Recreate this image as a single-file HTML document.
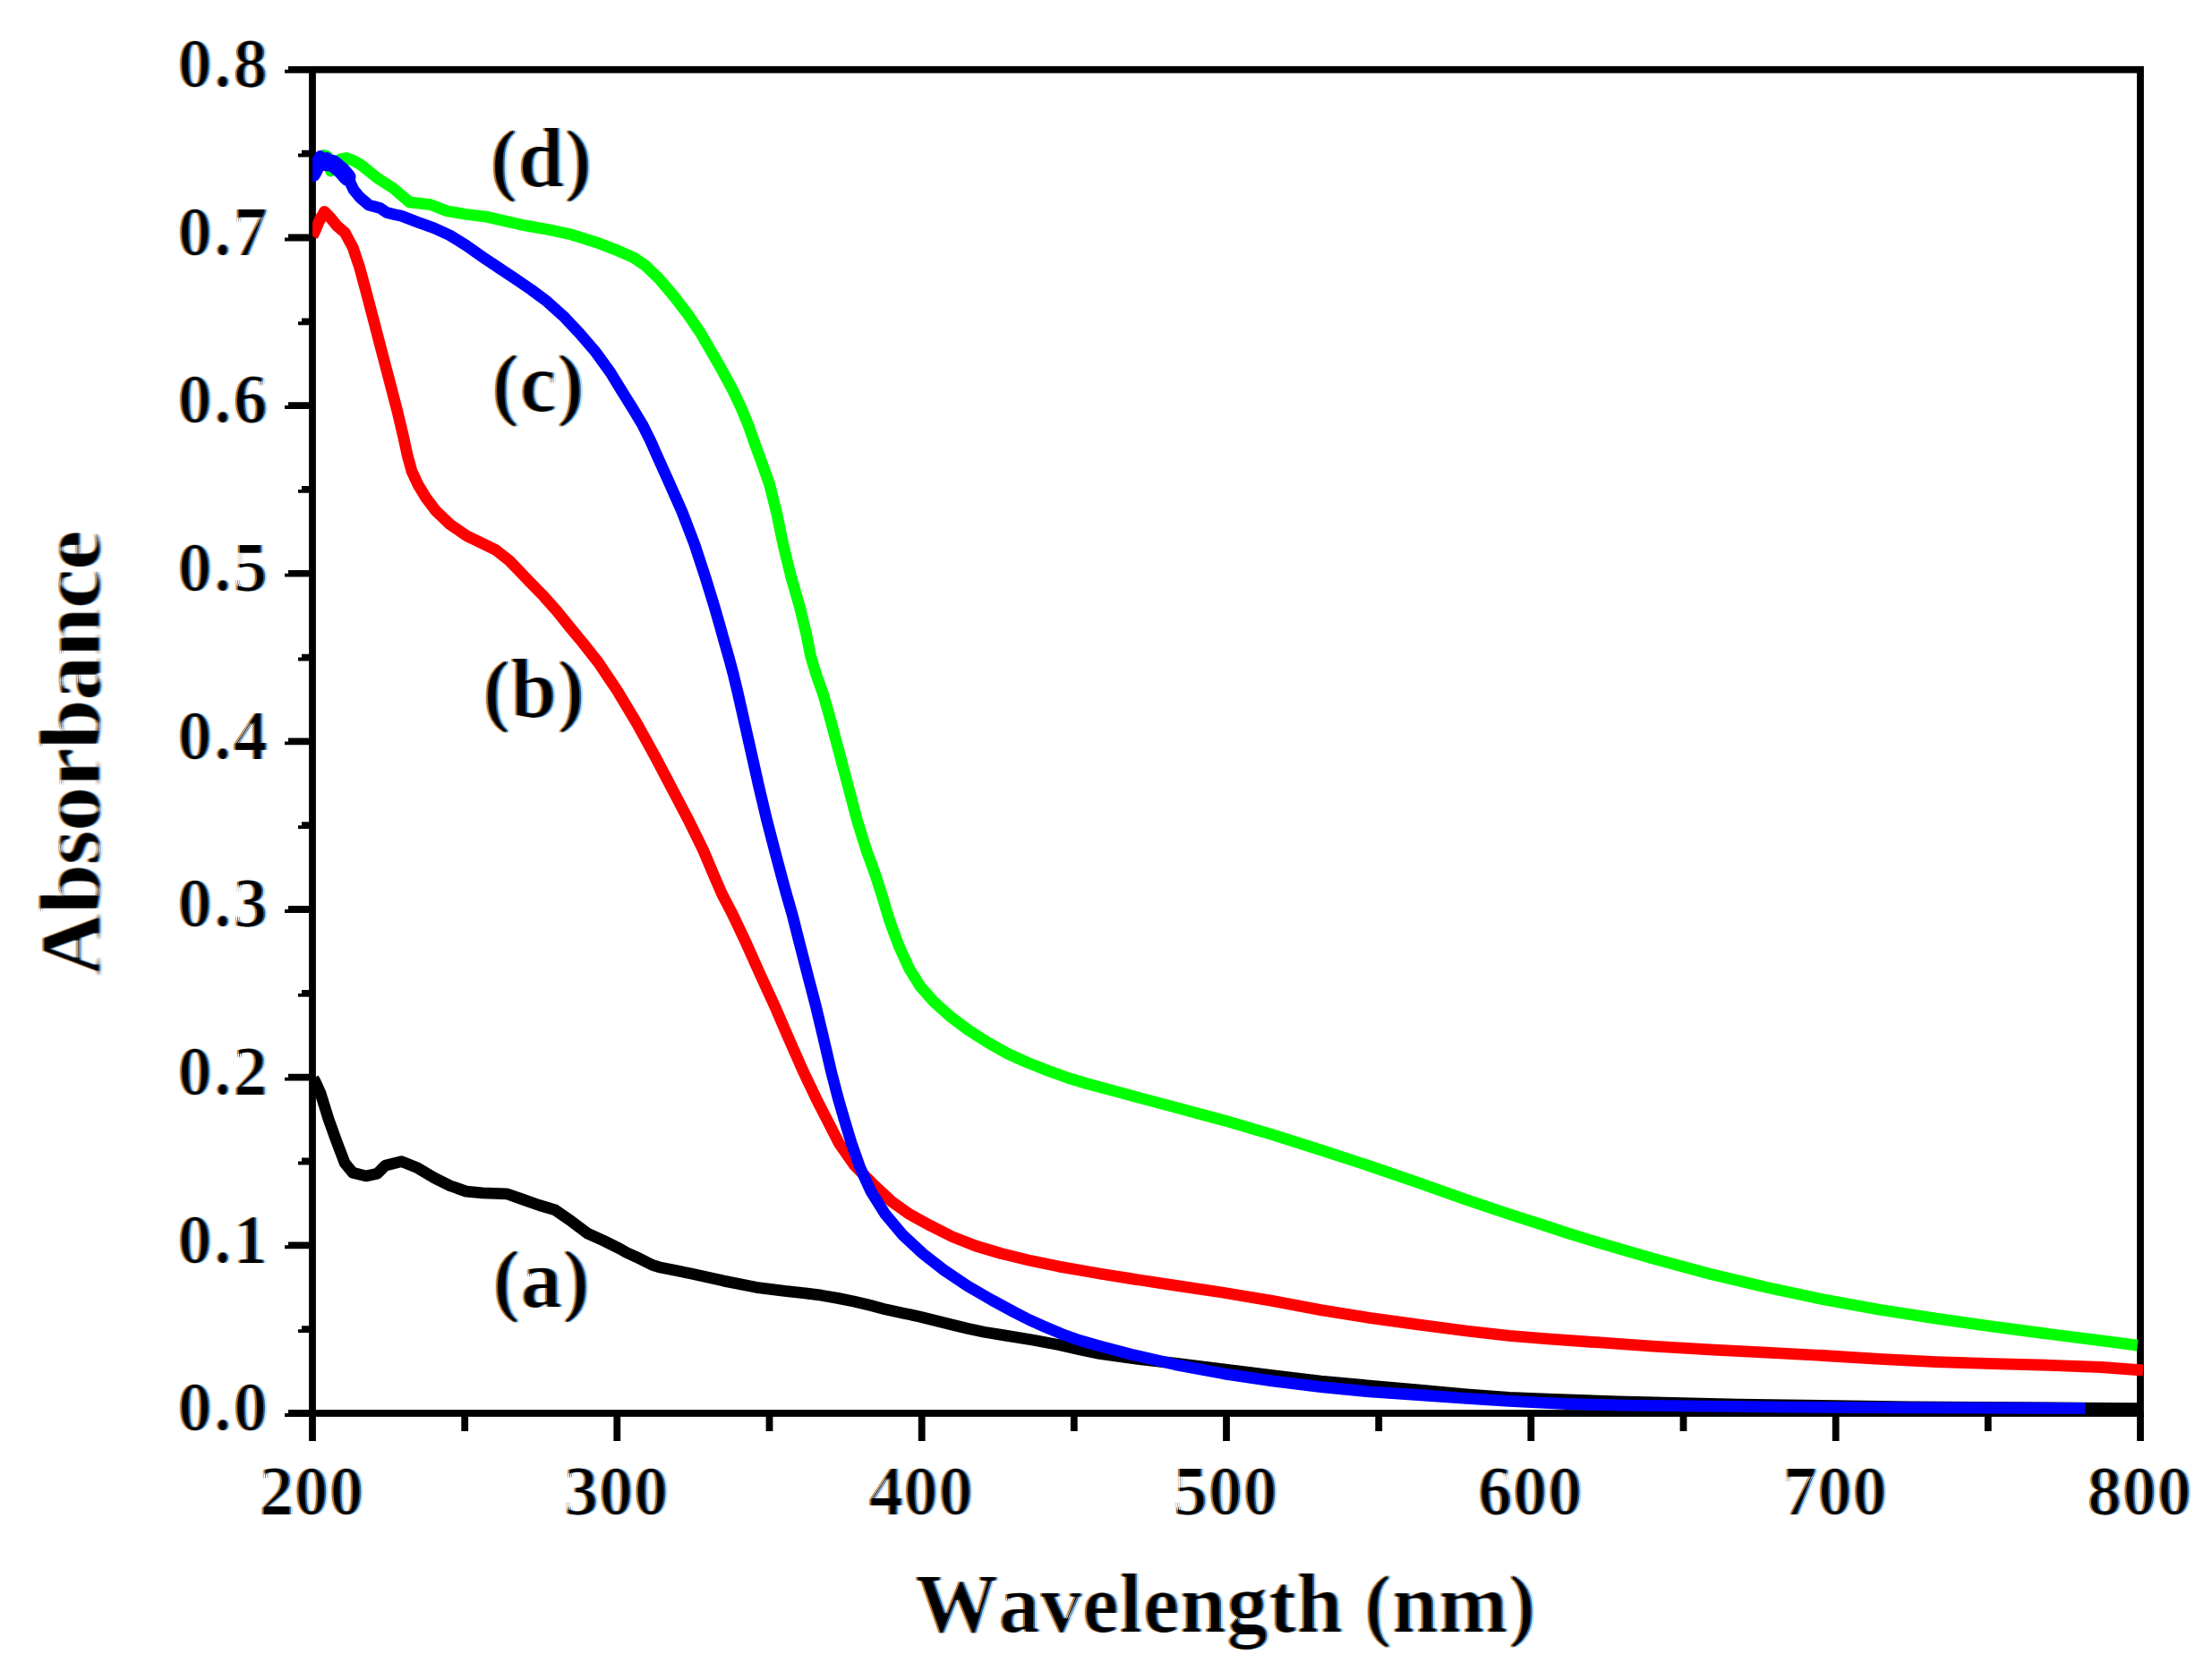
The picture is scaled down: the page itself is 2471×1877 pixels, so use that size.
<!DOCTYPE html>
<html><head><meta charset="utf-8"><title>Absorbance vs Wavelength</title>
<style>html,body{margin:0;padding:0;background:#fff}body{width:2471px;height:1877px;overflow:hidden}</style></head>
<body>
<svg width="2471" height="1877" viewBox="0 0 2471 1877" style="display:block">
<rect x="0" y="0" width="2471" height="1877" fill="#fff"/>
<defs><clipPath id="plotclip"><rect x="349.0" y="73.9" width="2045.9" height="1509.0"/></clipPath><filter id="ct" x="-10%" y="-10%" width="120%" height="120%" color-interpolation-filters="sRGB"><feMorphology in="SourceAlpha" operator="erode" radius="1.7 0.3" result="core"/><feOffset in="core" dx="-3.5" dy="0" result="lo2"/><feFlood flood-color="#ffd699" flood-opacity="0.8"/><feComposite in2="lo2" operator="in" result="lf2"/><feOffset in="core" dx="3.5" dy="0" result="ro2"/><feFlood flood-color="#9fdcff" flood-opacity="0.8"/><feComposite in2="ro2" operator="in" result="rf2"/><feOffset in="core" dx="-1.7" dy="0" result="lo1"/><feFlood flood-color="#a85a10" flood-opacity="0.85"/><feComposite in2="lo1" operator="in" result="lf1"/><feOffset in="core" dx="1.7" dy="0" result="ro1"/><feFlood flood-color="#104a9a" flood-opacity="0.85"/><feComposite in2="ro1" operator="in" result="rf1"/><feMerge><feMergeNode in="lf2"/><feMergeNode in="rf2"/><feMergeNode in="lf1"/><feMergeNode in="rf1"/><feMergeNode in="core"/></feMerge></filter></defs>
<rect x="349.0" y="77.8" width="2042.0" height="1501.2" fill="none" stroke="#000" stroke-width="7.8"/>
<g fill="#000"><path d="M318 1579.0H322V1575.1H349.0V1582.9H318Z"/><path d="M318 1391.3H322V1387.4H349.0V1395.2H318Z"/><path d="M318 1203.7H322V1199.8H349.0V1207.6H318Z"/><path d="M318 1016.0H322V1012.1H349.0V1019.9H318Z"/><path d="M318 828.4H322V824.5H349.0V832.3H318Z"/><path d="M318 640.8H322V636.9H349.0V644.6H318Z"/><path d="M318 453.1H322V449.2H349.0V457.0H318Z"/><path d="M318 265.5H322V261.6H349.0V269.4H318Z"/><path d="M318 77.8H322V73.9H349.0V81.7H318Z"/><path d="M333 1485.2H337V1481.3H349.0V1489.1H333Z"/><path d="M333 1297.5H337V1293.6H349.0V1301.4H333Z"/><path d="M333 1109.9H337V1106.0H349.0V1113.8H333Z"/><path d="M333 922.2H337V918.3H349.0V926.1H333Z"/><path d="M333 734.6H337V730.7H349.0V738.5H333Z"/><path d="M333 546.9H337V543.0H349.0V550.8H333Z"/><path d="M333 359.3H337V355.4H349.0V363.2H333Z"/><path d="M333 171.6H337V167.7H349.0V175.5H333Z"/><rect x="345.1" y="1579.0" width="7.8" height="31.0"/><rect x="685.4" y="1579.0" width="7.8" height="31.0"/><rect x="1025.8" y="1579.0" width="7.8" height="31.0"/><rect x="1366.1" y="1579.0" width="7.8" height="31.0"/><rect x="1706.4" y="1579.0" width="7.8" height="31.0"/><rect x="2046.8" y="1579.0" width="7.8" height="31.0"/><rect x="2387.1" y="1579.0" width="7.8" height="31.0"/><rect x="515.3" y="1579.0" width="7.8" height="20.0"/><rect x="855.6" y="1579.0" width="7.8" height="20.0"/><rect x="1195.9" y="1579.0" width="7.8" height="20.0"/><rect x="1536.3" y="1579.0" width="7.8" height="20.0"/><rect x="1876.6" y="1579.0" width="7.8" height="20.0"/><rect x="2216.9" y="1579.0" width="7.8" height="20.0"/></g>
<g clip-path="url(#plotclip)">
<polyline points="350.0,1205.0 352.0,1208.0 358.1,1221.7 367.1,1250.6 376.2,1275.9 385.2,1299.5 394.2,1310.3 408.7,1313.9 421.4,1311.2 430.4,1302.2 448.5,1297.6 466.6,1304.9 484.7,1315.7 502.7,1324.8 520.8,1331.1 538.9,1332.9 566.0,1333.8 584.1,1340.1 602.2,1346.5 620.3,1351.9 638.4,1364.6 656.5,1378.1 674.5,1386.3 692.6,1395.3 700.0,1399.5 710.7,1404.3 728.8,1413.4 736.2,1415.7 772.3,1423.0 808.5,1431.1 844.7,1438.3 876.6,1442.4 899.5,1444.8 917.5,1447.2 935.7,1450.4 953.7,1454.0 971.8,1458.3 989.8,1463.1 1008.0,1466.9 1026.0,1470.8 1044.2,1475.2 1062.2,1479.8 1080.8,1484.3 1099.5,1488.2 1121.8,1491.9 1153.2,1497.0 1184.0,1502.8 1205.8,1507.8 1228.4,1512.5 1263.8,1517.5 1312.7,1523.2 1367.0,1529.8 1421.2,1536.7 1475.5,1543.1 1529.7,1548.1 1584.0,1552.8 1638.2,1557.9 1685.8,1561.4 1728.9,1563.1 1807.0,1565.8 1941.6,1569.2 2133.1,1571.8 2391.0,1573.7" fill="none" stroke="#000" stroke-width="12.8" stroke-linejoin="round" stroke-linecap="butt"/>
<polyline points="349.0,264.0 352.0,258.0 356.3,247.5 362.5,236.5 368.9,243.0 376.2,252.1 385.2,259.8 394.2,276.5 401.5,298.2 408.7,324.9 415.9,352.2 422.6,377.9 429.0,402.3 436.2,429.8 443.9,459.5 450.5,487.4 455.4,509.8 460.0,526.5 466.9,541.4 476.0,556.3 487.2,571.1 502.9,586.0 521.5,598.7 538.6,607.0 553.9,614.5 568.8,626.3 582.4,640.4 594.4,652.9 607.6,666.4 622.1,682.8 636.5,700.6 651.3,718.5 668.8,740.8 689.9,772.3 711.6,808.5 731.5,844.7 750.5,880.8 769.5,917.0 786.1,950.9 797.6,978.3 806.6,999.0 818.2,1021.2 832.9,1052.3 849.1,1088.5 865.7,1124.7 881.3,1160.8 897.3,1197.0 912.2,1228.3 924.8,1252.9 937.3,1277.3 954.4,1301.8 976.0,1323.7 995.8,1342.2 1016.2,1356.7 1039.2,1369.3 1063.6,1381.6 1089.9,1392.0 1118.5,1400.5 1151.6,1408.6 1183.2,1415.1 1205.8,1419.0 1228.4,1423.0 1262.1,1428.4 1309.4,1435.6 1365.3,1444.0 1421.2,1453.4 1475.5,1463.6 1529.7,1472.4 1584.0,1479.9 1638.2,1487.0 1685.8,1492.3 1728.9,1495.8 1783.3,1499.7 1846.6,1504.2 1909.9,1507.9 1973.2,1511.1 2036.5,1514.5 2099.7,1518.3 2163.0,1521.6 2226.3,1523.7 2289.6,1525.3 2347.3,1527.5 2394.0,1531.0" fill="none" stroke="#f00" stroke-width="12.8" stroke-linejoin="round" stroke-linecap="butt"/>
<polyline points="349.0,187.0 356.0,180.0 362.0,173.5 366.0,175.0 369.5,191.0 373.0,184.0 380.0,178.0 387.0,176.5 395.0,179.5 403.3,184.3 421.4,198.8 439.5,210.5 457.5,225.9 481.0,228.6 499.1,235.8 521.2,239.5 544.8,242.4 565.5,247.2 586.4,251.9 611.2,256.2 638.4,262.1 665.5,270.6 690.3,280.1 708.0,287.9 720.8,296.6 736.2,311.4 753.3,331.5 768.7,351.7 782.3,371.6 794.9,393.2 807.6,415.4 818.9,436.6 828.4,456.5 836.5,476.3 843.8,497.4 851.4,518.0 859.6,541.2 867.5,572.5 874.9,608.5 883.8,644.7 893.5,678.6 900.7,708.2 905.7,733.4 911.8,753.7 919.6,775.5 928.3,806.2 938.2,843.5 948.1,880.8 957.6,917.0 968.2,950.9 978.2,978.3 985.9,1002.5 994.1,1029.8 1004.5,1057.7 1015.5,1081.8 1028.2,1102.3 1043.0,1119.0 1060.5,1134.8 1081.4,1150.7 1103.7,1164.8 1126.0,1177.3 1148.3,1187.4 1170.7,1196.2 1193.0,1204.3 1215.3,1211.0 1237.2,1216.9 1266.8,1224.9 1312.7,1237.1 1367.0,1251.7 1421.2,1267.6 1475.5,1284.9 1529.7,1302.6 1584.0,1321.2 1638.2,1340.5 1685.8,1356.5 1720.6,1367.7 1750.8,1377.6 1790.8,1389.9 1846.6,1406.2 1909.9,1423.3 1973.2,1438.3 2036.5,1451.7 2099.7,1463.2 2163.0,1473.1 2226.3,1482.2 2289.6,1490.5 2345.8,1497.6 2387.7,1503.2" fill="none" stroke="#0f0" stroke-width="12.8" stroke-linejoin="round" stroke-linecap="butt"/>
<polyline points="349.0,196.0 353.0,186.0 357.5,174.5 361.0,178.0 365.0,176.5 370.0,180.0 376.0,184.5 384.0,193.0 389.0,199.0 395.0,212.0 402.0,220.5 412.0,229.0 425.0,232.7 432.0,237.5 440.0,239.5 448.5,241.3 466.6,248.3 484.7,254.8 502.7,263.0 520.8,274.3 538.9,286.9 557.0,299.1 575.1,311.1 593.2,323.5 611.2,336.9 629.3,353.2 647.4,372.4 665.5,393.4 681.8,416.0 694.9,437.3 706.6,456.2 717.5,474.2 726.7,492.7 735.8,513.2 747.6,539.3 762.2,572.4 776.0,608.5 787.9,644.7 797.7,676.6 804.3,699.5 809.3,717.5 814.5,735.7 819.3,753.7 824.4,775.0 831.2,805.2 839.7,843.0 848.2,880.8 856.8,917.0 865.6,950.9 872.9,978.3 878.5,999.0 884.9,1021.2 892.8,1052.3 902.1,1088.5 911.5,1124.7 920.1,1160.8 928.5,1197.0 936.6,1228.3 943.7,1252.6 951.1,1277.1 960.6,1304.2 972.8,1330.9 988.6,1356.2 1008.5,1379.8 1030.7,1400.5 1054.6,1419.1 1080.8,1436.7 1108.0,1452.5 1132.0,1465.5 1149.3,1474.4 1165.9,1481.8 1186.2,1490.4 1205.8,1497.5 1228.4,1503.9 1263.8,1513.2 1312.7,1524.6 1367.0,1534.8 1421.2,1542.9 1475.5,1549.7 1529.7,1554.8 1584.0,1558.5 1638.2,1562.3 1685.8,1565.3 1720.6,1567.1 1750.8,1568.5 1814.5,1570.2 1998.9,1572.2 2329.2,1573.4" fill="none" stroke="#00f" stroke-width="12.8" stroke-linejoin="round" stroke-linecap="butt"/>
<polyline points="349.0,194.0 354.0,184.0 360.0,181.0 372.0,182.5 382.0,191.0 388.0,198.0" fill="none" stroke="#00f" stroke-width="19" stroke-linejoin="round" stroke-linecap="round"/>
</g>
<g font-family="&quot;Liberation Serif&quot;, serif" font-weight="bold" style="font-kerning:none" fill="#000" filter="url(#ct)"><text x="301" y="1598.3" text-anchor="end" font-size="77.5" letter-spacing="2">0.0</text><text x="301" y="1410.6" text-anchor="end" font-size="77.5" letter-spacing="2">0.1</text><text x="301" y="1223.0" text-anchor="end" font-size="77.5" letter-spacing="2">0.2</text><text x="301" y="1035.3" text-anchor="end" font-size="77.5" letter-spacing="2">0.3</text><text x="301" y="847.7" text-anchor="end" font-size="77.5" letter-spacing="2">0.4</text><text x="301" y="660.0" text-anchor="end" font-size="77.5" letter-spacing="2">0.5</text><text x="301" y="472.4" text-anchor="end" font-size="77.5" letter-spacing="2">0.6</text><text x="301" y="284.8" text-anchor="end" font-size="77.5" letter-spacing="2">0.7</text><text x="301" y="97.1" text-anchor="end" font-size="77.5" letter-spacing="2">0.8</text><text x="348.0" y="1692" text-anchor="middle" font-size="77.5" letter-spacing="0.2">200</text><text x="688.3" y="1692" text-anchor="middle" font-size="77.5" letter-spacing="0.2">300</text><text x="1028.7" y="1692" text-anchor="middle" font-size="77.5" letter-spacing="0.2">400</text><text x="1369.0" y="1692" text-anchor="middle" font-size="77.5" letter-spacing="0.2">500</text><text x="1709.3" y="1692" text-anchor="middle" font-size="77.5" letter-spacing="0.2">600</text><text x="2049.7" y="1692" text-anchor="middle" font-size="77.5" letter-spacing="0.2">700</text><text x="2390.0" y="1692" text-anchor="middle" font-size="77.5" letter-spacing="0.2">800</text><text x="1369" y="1823" text-anchor="middle" font-size="93" letter-spacing="0.3">Wavelength (nm)</text><text transform="translate(111.5,841.7) rotate(-90)" text-anchor="middle" font-size="97.3">Absorbance</text><text x="547" y="207.5" font-size="93.5">(d)</text><text x="549" y="458.5" font-size="93.5">(c)</text><text x="539" y="800.5" font-size="93.5">(b)</text><text x="550" y="1459.5" font-size="93.5">(a)</text></g>
</svg>
</body></html>
